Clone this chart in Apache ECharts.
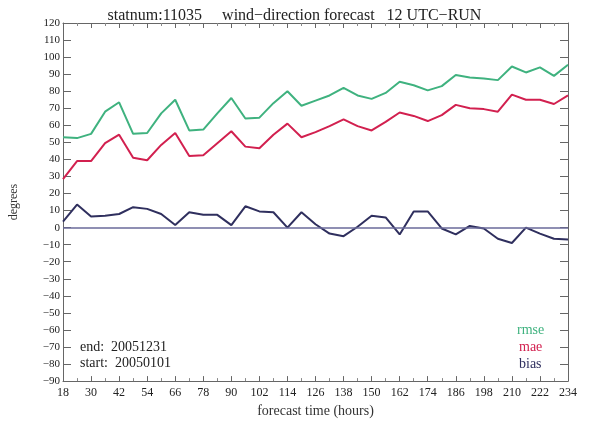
<!DOCTYPE html>
<html>
<head>
<meta charset="utf-8">
<script src="https://cdn.jsdelivr.net/npm/echarts@6/dist/echarts.min.js"></script>
<style>html,body{margin:0;padding:0;background:#fff;}#c{width:589px;height:423px;}</style>
</head>
<body>
<div id="c"></div>
<script>
const hours = [18,24,30,36,42,48,54,60,66,72,78,84,90,96,102,108,114,120,126,132,138,144,150,156,162,168,174,180,186,192,198,204,210,216,222,228,234];
const rmse = [53,52.5,55,68,73.5,55,55.5,67,75,57,57.5,67,76,64,64.5,73,80,71.5,74.5,77.5,82,77.5,75.5,79,85.5,83.5,80.5,83,89.5,88,87.5,86.5,94.5,91,94,89,95.5];
const mae = [28.5,39,39,49.5,54.5,41,39.5,48.5,55.5,42,42.5,49.5,56.5,47.5,46.5,54.5,61,53,56,59.5,63.5,59.5,57,62,67.5,65.5,62.5,66,72,70,69.5,68,78,75,75,72.5,77.5];
const bias = [3.5,13.5,6.5,7,8,12,11,8,1.5,9,7.5,7.5,1.5,12.5,9.5,9,0,9,2,-3.5,-5,0.5,7,6,-4,9.5,9.5,-0.5,-4,1,-0.5,-6.5,-9,0,-3.5,-6.5,-7];
const xTicks = [18,30,42,54,66,78,90,102,114,126,138,150,162,174,186,198,210,222,234];
const yMin = -90, yMax = 120, yStep = 10;
const titleText = 'statnum:11035     wind\u2212direction forecast   12 UTC\u2212RUN';
const seriesNames = ['rmse','mae','bias'];
const colors = ['#3fb27f','#d2204f','#2f2f5e'];

const font = 'Liberation Serif, Times New Roman, serif';
const chart = echarts.init(document.getElementById('c'));
const mk = (arr) => hours.map((h,i)=>[h,arr[i]]);
const axisLine = {onZero:false,lineStyle:{color:'#666',width:1}};
chart.setOption({
  animation:false,
  backgroundColor:'#fff',
  title:{text:titleText,left:'center',top:3,textStyle:{fontFamily:font,fontSize:16,fontWeight:'normal',color:'#222'}},
  grid:{left:63,right:21,top:23,bottom:37},
  xAxis:[{
    type:'value',min:18,max:234,interval:12,position:'bottom',
    name:'forecast time (hours)',nameLocation:'middle',nameGap:22,
    nameTextStyle:{fontFamily:font,fontSize:14,color:'#333'},
    axisLine:axisLine,
    axisTick:{inside:true,length:5,lineStyle:{color:'#666'}},
    minorTick:{show:true,splitNumber:2,length:3,lineStyle:{color:'#888'}},
    axisLabel:{fontFamily:font,fontSize:12,color:'#222',margin:6},
    splitLine:{show:false}
  },{
    type:'value',min:18,max:234,interval:12,position:'top',
    axisLine:axisLine,
    axisTick:{inside:true,length:5,lineStyle:{color:'#666'}},
    minorTick:{show:true,splitNumber:2,length:3,lineStyle:{color:'#888'}},
    axisLabel:{show:false},splitLine:{show:false}
  }],
  yAxis:[{
    type:'value',min:yMin,max:yMax,interval:yStep,position:'left',
    name:'degrees',nameLocation:'middle',nameGap:43,nameRotate:90,
    nameTextStyle:{fontFamily:font,fontSize:12,color:'#333'},
    axisLine:axisLine,
    axisTick:{inside:true,length:8,lineStyle:{color:'#666'}},
    axisLabel:{fontFamily:font,fontSize:11,color:'#222',margin:3,formatter:v=>String(v).replace('-','\u2212')},
    splitLine:{show:false}
  },{
    type:'value',min:yMin,max:yMax,interval:yStep,position:'right',
    axisLine:axisLine,
    axisTick:{inside:true,length:8,lineStyle:{color:'#666'}},
    axisLabel:{show:false},splitLine:{show:false}
  }],
  legend:{show:false},
  graphic:[
    {type:'text',left:80,top:340,style:{text:'end:  20051231',font:'14px '+font,fill:'#222'}},
    {type:'text',left:80,top:356,style:{text:'start:  20050101',font:'14px '+font,fill:'#222'}},
    {type:'text',left:517,top:323,style:{text:seriesNames[0],font:'14px '+font,fill:colors[0]}},
    {type:'text',left:519,top:340,style:{text:seriesNames[1],font:'14px '+font,fill:colors[1]}},
    {type:'text',left:519,top:357,style:{text:seriesNames[2],font:'14px '+font,fill:colors[2]}}
  ],
  series:[
    {name:'rmse',type:'line',data:mk(rmse),showSymbol:false,lineStyle:{color:colors[0],width:2},z:3},
    {name:'mae',type:'line',data:mk(mae),showSymbol:false,lineStyle:{color:colors[1],width:2},z:3},
    {name:'bias',type:'line',data:mk(bias),showSymbol:false,lineStyle:{color:colors[2],width:2},z:3,
      markLine:{silent:true,symbol:'none',label:{show:false},lineStyle:{color:'#6a6a9a',width:1.5,type:'solid'},data:[{yAxis:0}]}}
  ]
});
</script>
</body>
</html>
